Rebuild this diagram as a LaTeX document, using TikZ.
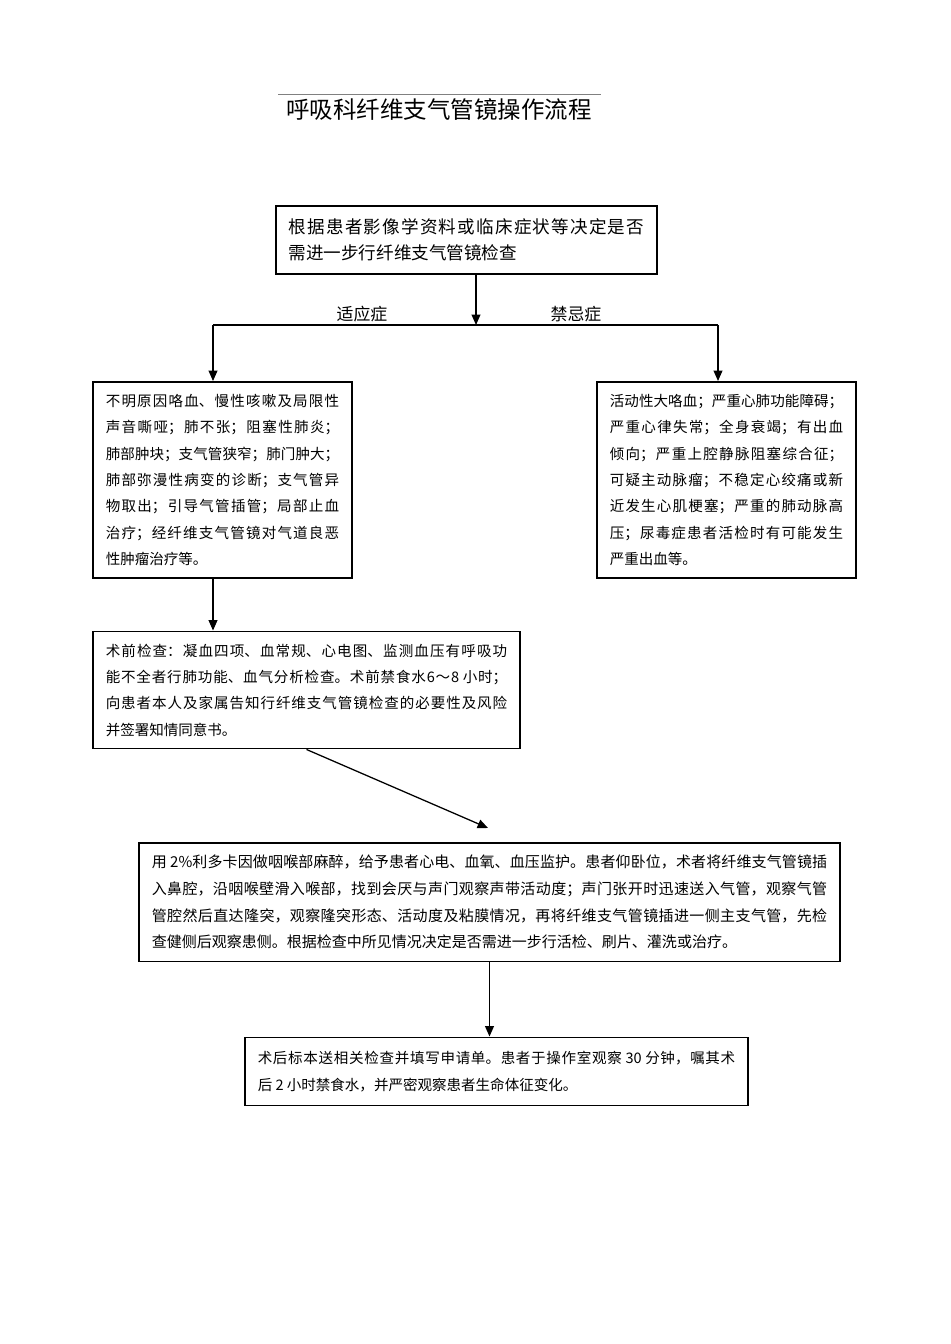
\documentclass[tikz,border=0pt]{standalone}
\usepackage{fontspec}
\usepackage{tikz}
\usetikzlibrary{arrows.meta}
\newfontfamily\cjkfont{Noto Sans CJK SC}
\XeTeXlinebreaklocale "zh"
\XeTeXlinebreakskip=0pt plus 2pt
\XeTeXlinebreakpenalty=0
\tolerance=10000
\hbadness=10000

\begin{document}
\begin{tikzpicture}[x=0.6264pt, y=-0.6264pt,
	stepbox/.style={draw, line width=1.2pt, align=justify, inner xsep=8pt, inner ysep=0pt,
		font=\cjkfont\fontsize{9.1pt}{16.5pt}\selectfont},
	flow/.style={-{Triangle[length=6.5pt,width=5.5pt]}, line width=0.8pt},
	tag/.style={font=\cjkfont\fontsize{10.6pt}{12pt}\selectfont}]
\useasboundingbox (0,0) rectangle (950,1344);
\node[font=\cjkfont\fontsize{14.7pt}{16pt}\selectfont] (title) at (439,110) {呼吸科纤维支气管镜操作流程};
\draw[gray, line width=0.5pt] (278,94) -- (601,94);

\node[stepbox, text width=222.7pt, minimum height=42.6pt,
	font=\cjkfont\fontsize{11pt}{16.6pt}\selectfont] (decide) at (466.5,240) {
	根据患者影像学资料或临床症状等决定是否\linebreak
	需进一步行纤维支气管镜检查};
\node[stepbox, text width=146.2pt, minimum height=122.8pt] (indic) at (222.5,480) {
	不明原因咯血、慢性咳嗽及局限性\linebreak
	声音嘶哑；肺不张；阻塞性肺炎；\linebreak
	肺部肿块；支气管狭窄；肺门肿大；\linebreak
	肺部弥漫性病变的诊断；支气管异\linebreak
	物取出；引导气管插管；局部止血\linebreak
	治疗；经纤维支气管镜对气道良恶\linebreak
	性肿瘤治疗等。};
\node[stepbox, text width=146.2pt, minimum height=122.8pt] (contra) at (726.5,480) {
	活动性大咯血；严重心肺功能障碍；\linebreak
	严重心律失常；全身衰竭；有出血\linebreak
	倾向；严重上腔静脉阻塞综合征；\linebreak
	可疑主动脉瘤；不稳定心绞痛或新\linebreak
	近发生心肌梗塞；严重的肺动脉高\linebreak
	压；尿毒症患者活检时有可能发生\linebreak
	严重出血等。};
\node[stepbox, text width=251.5pt, minimum height=73.3pt] (preop) at (306.5,690) {
	术前检查：凝血四项、血常规、心电图、监测血压有呼吸功\linebreak
	能不全者行肺功能、血气分析检查。术前禁食水6～8 小时；\linebreak
	向患者本人及家属告知行纤维支气管镜检查的必要性及风险\linebreak
	并签署知情同意书。};
\node[stepbox, text width=423.1pt, minimum height=74.5pt,
	font=\cjkfont\fontsize{9.4pt}{16.7pt}\selectfont] (proc) at (489.5,902) {
	用 2\%利多卡因做咽喉部麻醉，给予患者心电、血氧、血压监护。患者仰卧位，术者将纤维支气管镜插\linebreak
	入鼻腔，沿咽喉壁滑入喉部，找到会厌与声门观察声带活动度；声门张开时迅速送入气管，观察气管\linebreak
	管腔然后直达隆突，观察隆突形态、活动度及粘膜情况，再将纤维支气管镜插进一侧主支气管，先检\linebreak
	查健侧后观察患侧。根据检查中所见情况决定是否需进一步行活检、刷片、灌洗或治疗。};
\node[stepbox, text width=299.1pt, minimum height=42.6pt,
	font=\cjkfont\fontsize{9.1pt}{16.9pt}\selectfont] (post) at (496.5,1071.5) {
	术后标本送相关检查并填写申请单。患者于操作室观察 30 分钟，嘱其术\linebreak
	后 2 小时禁食水，并严密观察患者生命体征变化。};

\node[tag] (indtag) at (362,314) {适应症};
\node[tag] (contag) at (576,314) {禁忌症};

\coordinate (fork) at (476,325);
\coordinate (splitL) at (213,325);
\coordinate (splitR) at (718,325);
\coordinate (tipA) at (488,828);
\draw[line width=0.8pt] (splitL) -- (splitR);
\path[flow]
(decide.south -| fork) edge (fork)
(splitL) edge (indic.north -| splitL)
(splitR) edge (contra.north -| splitR)
(indic.south -| splitL) edge (preop.north -| splitL)
(preop.south) edge (tipA)
(proc.south) edge (proc.south |- post.north)
;
\end{tikzpicture}
\end{document}
